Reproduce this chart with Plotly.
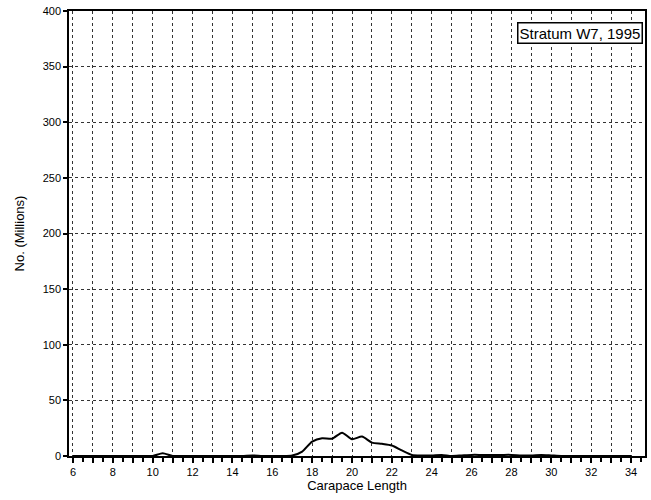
import plotly.graph_objects as go

length = [6, 6.5, 7, 7.5, 8, 8.5, 9, 9.5, 10, 10.5, 11, 11.5, 12, 12.5, 13, 13.5, 14, 14.5, 15, 15.5,
          16, 16.5, 17, 17.5, 18, 18.5, 19, 19.5, 20, 20.5, 21, 21.5, 22, 22.5, 23, 23.5, 24, 24.5,
          25, 25.5, 26, 26.5, 27, 27.5, 28, 28.5, 29, 29.5, 30, 30.5, 31, 31.5, 32, 32.5, 33, 33.5, 34]
numbers = [0, 0, 0, 0, 0, 0, 0, 0, 0, 2.5, 0, 0, 0, 0, 0, 0, 0, 0, 0.5, 0,
           0, 0, 0.5, 4, 13, 16, 15.5, 21, 15, 17.5, 12, 11, 9.5, 5, 1, 0.5, 0.5, 1,
           0, 0.5, 1, 1, 1, 1, 1, 0.5, 0.5, 1, 0.5, 0, 0, 0, 0, 0, 0, 0, 0]
x_tick_vals = list(range(6, 35))
x_tick_text = [str(v) if v % 2 == 0 else "" for v in x_tick_vals]
y_ticks = list(range(0, 401, 50))

fig = go.Figure()
fig.add_trace(go.Scatter(x=length, y=numbers, mode="lines",
                         line=dict(color="black", width=2, shape="spline", smoothing=0.6),
                         showlegend=False))

fig.update_layout(
    width=651, height=500,
    margin=dict(l=69, r=4, t=11, b=44),
    paper_bgcolor="white", plot_bgcolor="white",
    font=dict(family="Liberation Sans, Arial", color="black", size=11),
    xaxis=dict(range=[5.8, 34.7], tickvals=x_tick_vals, ticktext=x_tick_text,
               ticks="outside", ticklen=5, tickwidth=1.5,
               tickcolor="black", showline=True, linecolor="black", linewidth=1.5, mirror=True,
               showgrid=True, gridcolor="#333", griddash="dot", gridwidth=1, zeroline=False,
               minor=dict(dtick=0.5, tick0=6, ticks="outside", ticklen=4, tickcolor="black",
                          showgrid=False),
               title=dict(text="Carapace Length", font=dict(size=13), standoff=4),
               tickfont=dict(size=11)),
    yaxis=dict(range=[0, 400], tickvals=y_ticks, ticks="outside", ticklen=4, tickwidth=1.5,
               tickcolor="black", showline=True, linecolor="black", linewidth=1.5, mirror=True,
               showgrid=True, gridcolor="#333", griddash="dot", gridwidth=1, zeroline=False,
               title=dict(text="No. (Millions)", font=dict(size=13), standoff=15),
               tickfont=dict(size=11)),
    annotations=[dict(text="Stratum W7, 1995", xref="paper", yref="paper", x=0.997, y=0.975,
                      xanchor="right", yanchor="top", showarrow=False,
                      font=dict(size=15, color="black"), bgcolor="white",
                      bordercolor="black", borderwidth=1.5, borderpad=1)],
)

fig.write_html("out.html")
